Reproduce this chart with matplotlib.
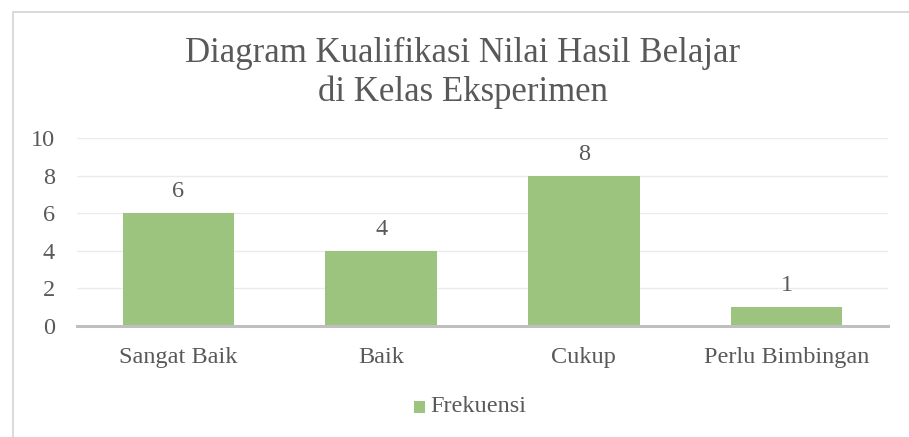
import matplotlib
matplotlib.use("Agg")
import matplotlib.pyplot as plt
from matplotlib.patches import Rectangle

categories = ["Sangat Baik", "Baik", "Cukup", "Perlu Bimbingan"]
values = [6, 4, 8, 1]
series_name = "Frekuensi"
yticks = [0, 2, 4, 6, 8, 10]
title_lines = ["Diagram Kualifikasi Nilai Hasil Belajar", "di Kelas Eksperimen"]

W, H = 909, 437
fig = plt.figure(figsize=(W/100, H/100), dpi=100)
plt.rcParams['font.family'] = ['Liberation Serif', 'DejaVu Serif']
txt = '#595959'
green = '#9DC47E'
fs = 17.5

# outer border (chart area, cropped at right/bottom)
fig.patches.append(Rectangle((13/W, -0.1), 1.2, (H-12)/H + 0.1, transform=fig.transFigure,
                             fill=False, edgecolor='#D9D9D9', linewidth=1.4))

ax = fig.add_axes([77/W, 1-326/H, (888-77)/W, (326-138)/H])
x = list(range(len(categories)))
ax.bar(x, values, width=0.55, color=green, zorder=3)
ax.set_xlim(-0.5, len(categories)-0.5)
ax.set_ylim(0, 10)
ax.set_yticks(yticks)
ax.set_yticklabels([str(v) for v in yticks], fontsize=fs, color=txt)
ax.set_xticks(x)
ax.set_xticklabels(categories, fontsize=fs, color=txt)
ax.tick_params(axis='both', length=0)
ax.tick_params(axis='y', pad=16)
ax.tick_params(axis='x', pad=15)
ax.grid(axis='y', color='#EBEBEB', linewidth=1, zorder=0)
for s in ['top', 'right', 'left']:
    ax.spines[s].set_visible(False)
ax.spines['bottom'].set_color('#BFBFBF')
ax.spines['bottom'].set_linewidth(2.2)
ax.spines['bottom'].set_zorder(4)

for xi, v in zip(x, values):
    ax.annotate(str(v), (xi, v), xytext=(0, 11.5), textcoords='offset points',
                ha='center', va='baseline', fontsize=fs, color=txt)

fig.text(463/W, 1-62/H, title_lines[0], ha='center', va='baseline', fontsize=25, color=txt)
fig.text(463/W, 1-101/H, title_lines[1], ha='center', va='baseline', fontsize=25, color=txt)

# legend
fig.patches.append(Rectangle((414/W, 1-413/H), 11/W, 12/H, transform=fig.transFigure,
                             facecolor=green, edgecolor='none'))
fig.text(430/W, 1-407/H, series_name, ha='left', va='center', fontsize=fs, color=txt)

fig.savefig("out.png", dpi=100)
